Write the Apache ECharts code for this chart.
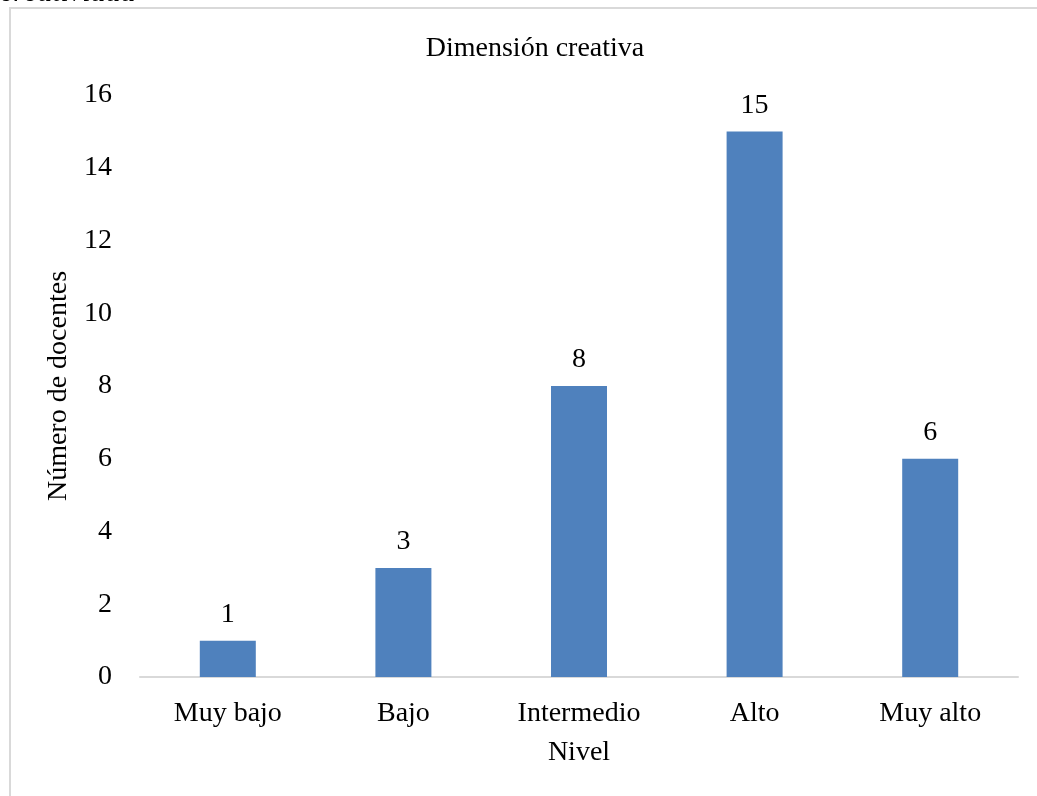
<!DOCTYPE html>
<html>
<head>
<meta charset="utf-8">
<script src="https://cdn.jsdelivr.net/npm/echarts@6/dist/echarts.min.js"></script>
<style>
html,body{margin:0;padding:0;background:#fff;}
#chart{width:1037px;height:796px;}
</style>
</head>
<body>
<div id="chart"></div>
<script>
const categories = ['Muy bajo', 'Bajo', 'Intermedio', 'Alto', 'Muy alto'];
const values = [1, 3, 8, 15, 6];
const yTicks = [0, 2, 4, 6, 8, 10, 12, 14, 16];

const FONT = '"Liberation Serif", "Times New Roman", serif';
const chart = echarts.init(document.getElementById('chart'));
chart.setOption({
  animation: false,
  backgroundColor: '#ffffff',
  textStyle: { fontFamily: FONT },
  title: {
    text: 'Dimensión creativa',
    left: 530,
    top: 30,
    textAlign: 'center',
    textStyle: { fontFamily: FONT, fontSize: 28, fontWeight: 'normal', color: '#000' }
  },
  graphic: [
    {
      type: 'rect',
      shape: { x: 10, y: 8, width: 1100, height: 900 },
      style: { fill: 'none', stroke: '#d9d9d9', lineWidth: 2 },
      silent: true,
      z: 1
    },
    {
      type: 'text',
      x: 0,
      y: 8,
      z: 10,
      style: {
        text: 'creatividad',
        font: 'italic 30px "Liberation Serif", serif',
        fill: '#000',
        textAlign: 'left',
        verticalAlign: 'bottom'
      },
      silent: true
    }
  ],
  grid: { left: 140, right: 19, top: 95, bottom: 119 },
  xAxis: {
    type: 'category',
    data: categories,
    name: 'Nivel',
    nameLocation: 'middle',
    nameGap: 62,
    nameTextStyle: { fontFamily: FONT, fontSize: 28, color: '#000' },
    axisLine: { show: true, lineStyle: { color: '#d9d9d9', width: 2 } },
    axisTick: { show: false },
    axisLabel: { fontFamily: FONT, fontSize: 28, color: '#000', margin: 23 }
  },
  yAxis: {
    type: 'value',
    min: yTicks[0],
    max: yTicks[yTicks.length - 1],
    interval: yTicks[1] - yTicks[0],
    name: 'Número de docentes',
    nameLocation: 'middle',
    nameGap: 66,
    nameTextStyle: { fontFamily: FONT, fontSize: 28, color: '#000' },
    axisLine: { show: false },
    axisTick: { show: false },
    splitLine: { show: false },
    axisLabel: { fontFamily: FONT, fontSize: 28, color: '#000', margin: 28 }
  },
  series: [{
    type: 'bar',
    data: values,
    barWidth: 56,
    itemStyle: { color: '#4f81bd' },
    label: {
      show: true,
      position: 'top',
      distance: 12,
      fontFamily: FONT,
      fontSize: 28,
      color: '#000'
    }
  }]
});
</script>
</body>
</html>
